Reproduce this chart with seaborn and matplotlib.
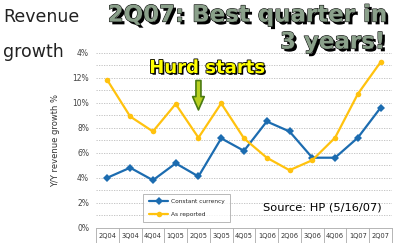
import matplotlib
matplotlib.use("Agg")
import matplotlib.pyplot as plt
import matplotlib.patheffects as pe
import seaborn as sns
import pandas as pd
import numpy as np

quarters = ["2Q04", "3Q04", "4Q04", "1Q05", "2Q05", "3Q05", "4Q05",
            "1Q06", "2Q06", "3Q06", "4Q06", "1Q07", "2Q07"]
constant_currency = [4.0, 4.8, 3.8, 5.15, 4.1, 7.15, 6.15, 8.5, 7.7, 5.6, 5.6, 7.2, 9.6]
as_reported = [11.8, 8.9, 7.7, 9.9, 7.2, 9.95, 7.15, 5.6, 4.6, 5.4, 7.2, 10.7, 13.25]
ytick_values = [0, 2, 4, 6, 8, 10, 12, 14]
ytick_labels = ["0%", "2%", "4%", "6%", "8%", "10%", "12%", "4%"]

sns.set_theme(style="white")
plt.rcParams["font.family"] = ["DejaVu Sans"]

blue = "#1c6cb0"
yellow = "#ffc20e"

df = pd.DataFrame({
    "quarter": quarters * 2,
    "x": list(range(len(quarters))) * 2,
    "value": constant_currency + as_reported,
    "series": ["Constant currency"] * len(quarters) + ["As reported"] * len(quarters),
})

fig = plt.figure(figsize=(3.99, 2.43), dpi=100)
ax = fig.add_axes([0.2406, 0.063, 0.7418, 0.72])

sns.lineplot(data=df, x="x", y="value", hue="series", style="series",
             palette={"Constant currency": blue, "As reported": yellow},
             markers={"Constant currency": "D", "As reported": "o"},
             dashes=False, linewidth=1.6, markersize=4, markeredgewidth=0,
             ax=ax, legend=True)

ax.set_xlim(-0.5, len(quarters) - 0.5)
ax.set_ylim(0, 14)
ax.set_yticks(ytick_values)
ax.set_yticklabels(ytick_labels)
ax.yaxis.set_minor_locator(matplotlib.ticker.MultipleLocator(1))
ax.grid(True, which="both", axis="y", color="#bbbbbb", linestyle=(0, (1.5, 1.5)), linewidth=0.6)
ax.set_axisbelow(True)
ax.tick_params(axis="y", which="both", length=0, labelsize=5.5, labelcolor="#444444", pad=5)

ax.set_xticks(range(len(quarters)))
ax.set_xticklabels(quarters)
ax.set_xticks(np.arange(-0.5, len(quarters)), minor=True)
ax.tick_params(axis="x", which="major", bottom=False, length=0, labelsize=4.8, labelcolor="#333333", pad=4)
ax.tick_params(axis="x", which="minor", bottom=True, length=14, width=0.6, color="#aaaaaa", direction="out")
ax.set_xlabel("")
ax.set_ylabel("Y/Y revenue growth %", fontsize=6, color="#333333", labelpad=9)

for s in ["left", "right", "top"]:
    ax.spines[s].set_visible(False)
ax.spines["bottom"].set_color("#aaaaaa")
ax.spines["bottom"].set_linewidth(0.6)

leg = ax.legend(loc="lower left", bbox_to_anchor=(0.16, 0.03), fontsize=4.2,
                frameon=True, fancybox=False, edgecolor="#999999", handlelength=3.4,
                handletextpad=0.4, borderpad=0.9, labelspacing=1.4, borderaxespad=0)
leg.get_frame().set_linewidth(0.6)

fig.text(0.658, 0.148, "Source: HP (5/16/07)", fontsize=8.2, color="black", ha="left", va="center")

fig.text(0.008, 0.93, "Revenue", fontsize=12.5, color="#222222", ha="left", va="center")
fig.text(0.008, 0.785, "growth", fontsize=12.5, color="#222222", ha="left", va="center")

title_fx = [pe.withSimplePatchShadow(offset=(2.0, -2.0), shadow_rgbFace="black", alpha=1.0),
            pe.Stroke(linewidth=0.8, foreground="#111111"), pe.Normal()]
fig.text(0.968, 0.938, "2Q07: Best quarter in", fontsize=16.5, fontweight="heavy", color="#8aa08a",
         ha="right", va="center", path_effects=title_fx)
fig.text(0.965, 0.827, "3 years!", fontsize=16.5, fontweight="heavy", color="#8aa08a",
         ha="right", va="center", path_effects=title_fx)

hurd_fx = [pe.withSimplePatchShadow(offset=(1.2, -1.2), shadow_rgbFace="black", alpha=1.0),
           pe.Stroke(linewidth=1.2, foreground="black"), pe.Normal()]
fig.text(0.518, 0.72, "Hurd starts", fontsize=13, fontweight="heavy",
         color="#ffff00", ha="center", va="center", path_effects=hurd_fx)

ax.annotate("", xy=(4, 9.2), xytext=(4, 12.0),
            arrowprops=dict(arrowstyle="simple,head_width=0.7,head_length=0.8,tail_width=0.3",
                            facecolor="#b8d020", edgecolor="#4a7a10", linewidth=1.2))

fig.savefig("out.png", dpi=100)
